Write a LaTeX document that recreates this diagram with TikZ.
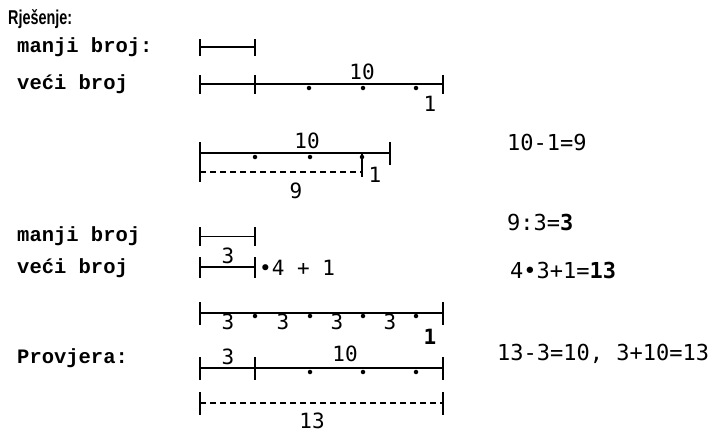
\documentclass[tikz,border=0pt]{standalone}
\usepackage{fontspec}
\setmainfont{Liberation Sans}
\newfontfamily\labfont{Liberation Mono}
\newfontfamily\numfont{DejaVu Sans Mono}
\begin{document}
\begin{tikzpicture}[x=1pt,y=-1pt,
  lab/.style={anchor=west,inner sep=0pt,font=\labfont\bfseries\fontsize{20.5}{20.5}\selectfont},
  num/.style={inner sep=0pt,font=\numfont\fontsize{21}{21}\selectfont},
  eq/.style={anchor=west,inner sep=0pt,font=\numfont\fontsize{22}{22}\selectfont},
  bar/.style={line width=1.7pt},
  thinbar/.style={line width=0.9pt},
  dbar/.style={line width=1.3pt,dash pattern=on 6pt off 4pt},
  tk/.style={line width=1.7pt},
  dotm/.style={circle,fill=black,inner sep=0pt,minimum size=4.5pt}]
\useasboundingbox (0,0) rectangle (716,434);
% title
\node[anchor=west,inner sep=0pt,xscale=0.72,font=\bfseries\fontsize{20}{20}\selectfont] (title) at (8,19) {Rješenje:};
% row 1
\node[lab] (l1) at (17,47) {manji broj:};
\coordinate (a1) at (200,47); \coordinate (b1) at (255,47);
\draw[bar] (a1) -- (b1);
\draw[tk] (200,39) -- (200,56) (255,39) -- (255,56);
% row 2
\node[lab] (l2) at (17,84) {veći broj};
\coordinate (a2) at (200,84); \coordinate (c2) at (443,84);
\draw[bar] (a2) -- (c2);
\draw[tk] (200,75) -- (200,94) (255,75) -- (255,94) (443,75) -- (443,94);
\foreach \x in {309,363,416} \node[dotm] at (\x,88) {};
\node[num] (n10a) at (362,72) {10};
\node[num] (n1a) at (430,104) {1};
% block 2
\coordinate (a3) at (200,153); \coordinate (c3) at (390,153);
\coordinate (d3) at (200,172); \coordinate (e3) at (362,172);
\draw[bar] (a3) -- (c3);
\draw[dbar] (d3) -- (e3);
\draw[tk] (200,142) -- (200,182) (390,142) -- (390,165);
\draw[line width=1.3pt] (362,153) -- (362,177);
\foreach \x in {255,310,362} \node[dotm] at (\x,157) {};
\node[num] (n10b) at (307,141) {10};
\node[num] (n1b) at (375,175) {1};
\node[num] (n9) at (296,191) {9};
% equations
\node[eq] (e1) at (507,142) {10-1=9};
\node[eq] (e2) at (507,222) {9:3=\textbf{3}};
\node[eq] (e3n) at (510,270) {4•3+1=\textbf{13}};
\node[eq] (e4) at (497,354) {13-3=10, 3+10=13};
% block 3
\node[lab] (l3) at (17,236) {manji broj};
\draw[thinbar] (200,236) -- (255,236);
\draw[tk] (200,227) -- (200,246) (255,227) -- (255,246);
\node[lab] (l4) at (17,268) {veći broj};
\draw[bar] (200,267) -- (255,267);
\draw[tk] (200,257) -- (200,278) (255,257) -- (255,278);
\node[num] (n3a) at (228,256) {3};
\node[anchor=west,inner sep=0pt,font=\numfont\fontsize{21}{21}\selectfont] (m4) at (259,268) {•4 + 1};
% block 4
\draw[bar] (200,313) -- (443,313);
\draw[tk] (200,302) -- (200,325) (443,302) -- (443,325);
\foreach \x in {255,310,363,416} \node[dotm] at (\x,316) {};
\foreach \x in {228,283,337,390} \node[num] at (\x,322) {3};
\node[num,font=\numfont\bfseries\fontsize{21}{21}\selectfont] (n1c) at (430,337) {1};
% provjera
\node[lab] (l5) at (17,358) {Provjera:};
\draw[bar] (200,368) -- (443,368);
\draw[tk] (200,357) -- (200,380) (255,357) -- (255,380) (443,357) -- (443,380);
\foreach \x in {310,363,416} \node[dotm] at (\x,372) {};
\node[num] (n3b) at (228,357) {3};
\node[num] (n10c) at (345,354) {10};
\draw[dbar] (200,403) -- (443,403);
\draw[tk] (200,392) -- (200,415) (443,392) -- (443,415);
\node[num] (n13) at (312,421) {13};
\end{tikzpicture}
\end{document}
